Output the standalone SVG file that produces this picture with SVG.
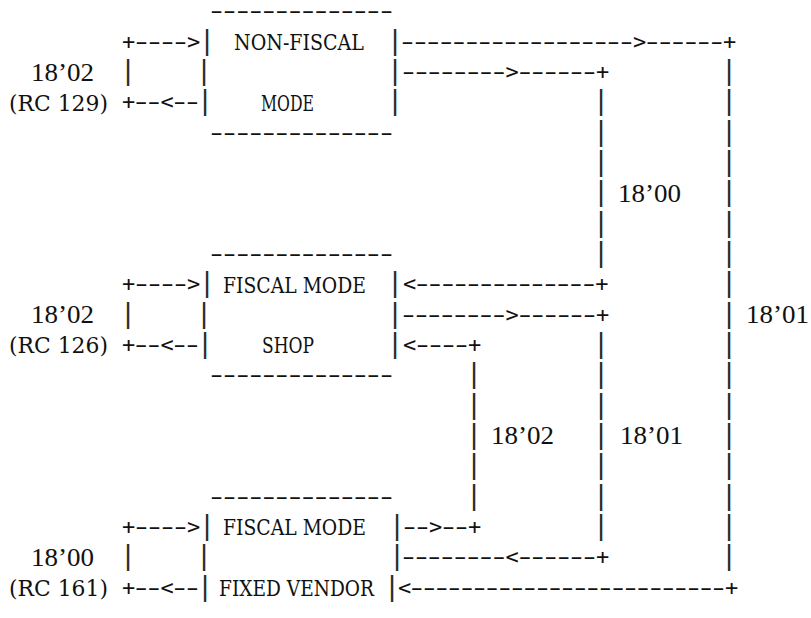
<svg xmlns="http://www.w3.org/2000/svg" width="811" height="618" viewBox="0 0 811 618">
<style>
.a{font-family:"DejaVu Sans Mono",monospace;font-size:22px;fill:#111}
.d{font-family:"DejaVu Sans",sans-serif;font-size:22px}
.b{font-family:"DejaVu Sans",sans-serif;font-size:27px;fill:#2a2a2a;text-anchor:middle}
.t{font-family:"DejaVu Serif",serif;font-size:23px;fill:#111}
.n{font-family:"Liberation Serif",serif;font-size:25px;fill:#111}
</style>
<rect width="811" height="618" fill="#fff"/>
<g id="node-non-fiscal">
<text class="a" y="18.4"><tspan class="d" x="210" textLength="183" lengthAdjust="spacingAndGlyphs">--------------</tspan></text>
<text class="b" x="207" y="48.7">|</text>
<text class="b" x="204" y="79">|</text>
<text class="b" x="205" y="109.3">|</text>
<text class="b" x="395" y="48.7">|</text>
<text class="b" x="395" y="79">|</text>
<text class="b" x="395" y="109.3">|</text>
<text class="t" x="234" y="50" textLength="130" lengthAdjust="spacingAndGlyphs">NON-FISCAL</text>
<text class="t" x="261" y="110.7" textLength="53" lengthAdjust="spacingAndGlyphs">MODE</text>
<text class="a" y="139.6"><tspan class="d" x="210" textLength="183" lengthAdjust="spacingAndGlyphs">--------------</tspan></text>
</g>
<g id="node-fiscal-shop">
<text class="a" y="260.9"><tspan class="d" x="210" textLength="183" lengthAdjust="spacingAndGlyphs">--------------</tspan></text>
<text class="b" x="207" y="291.3">|</text>
<text class="b" x="204" y="321.6">|</text>
<text class="b" x="205" y="351.9">|</text>
<text class="b" x="395" y="291.3">|</text>
<text class="b" x="395" y="321.6">|</text>
<text class="b" x="395" y="351.9">|</text>
<text class="t" x="223" y="292.7" textLength="143" lengthAdjust="spacingAndGlyphs">FISCAL MODE</text>
<text class="t" x="262" y="353.3" textLength="52" lengthAdjust="spacingAndGlyphs">SHOP</text>
<text class="a" y="382.2"><tspan class="d" x="210" textLength="183" lengthAdjust="spacingAndGlyphs">--------------</tspan></text>
</g>
<g id="node-fiscal-fixed-vendor">
<text class="a" y="503.5"><tspan class="d" x="210" textLength="183" lengthAdjust="spacingAndGlyphs">--------------</tspan></text>
<text class="b" x="207" y="533.8">|</text>
<text class="b" x="204" y="564.1">|</text>
<text class="b" x="205" y="594.5">|</text>
<text class="b" x="397" y="533.8">|</text>
<text class="b" x="397" y="564.1">|</text>
<text class="b" x="392" y="594.5">|</text>
<text class="t" x="223" y="535.2" textLength="143" lengthAdjust="spacingAndGlyphs">FISCAL MODE</text>
<text class="t" x="219" y="595.9" textLength="155" lengthAdjust="spacingAndGlyphs">FIXED VENDOR</text>
</g>
<g id="connectors">
<!-- left self loops -->
<text class="a" y="48.7"><tspan x="122">+</tspan><tspan class="d" x="135" textLength="52" lengthAdjust="spacingAndGlyphs">----</tspan><tspan x="187">&gt;</tspan></text>
<text class="b" x="128" y="79">|</text>
<text class="a" y="109.3"><tspan x="122">+</tspan><tspan class="d" x="134.8" textLength="25.6" lengthAdjust="spacingAndGlyphs">--</tspan><tspan x="160.4">&lt;</tspan><tspan class="d" x="173.2" textLength="25.6" lengthAdjust="spacingAndGlyphs">--</tspan></text>
<text class="a" y="291.3"><tspan x="122">+</tspan><tspan class="d" x="135" textLength="52" lengthAdjust="spacingAndGlyphs">----</tspan><tspan x="187">&gt;</tspan></text>
<text class="b" x="128" y="321.6">|</text>
<text class="a" y="351.9"><tspan x="122">+</tspan><tspan class="d" x="134.8" textLength="25.6" lengthAdjust="spacingAndGlyphs">--</tspan><tspan x="160.4">&lt;</tspan><tspan class="d" x="173.2" textLength="25.6" lengthAdjust="spacingAndGlyphs">--</tspan></text>
<text class="a" y="533.8"><tspan x="122">+</tspan><tspan class="d" x="135" textLength="52" lengthAdjust="spacingAndGlyphs">----</tspan><tspan x="187">&gt;</tspan></text>
<text class="b" x="128" y="564.1">|</text>
<text class="a" y="594.5"><tspan x="122">+</tspan><tspan class="d" x="134.8" textLength="25.6" lengthAdjust="spacingAndGlyphs">--</tspan><tspan x="160.4">&lt;</tspan><tspan class="d" x="173.2" textLength="25.6" lengthAdjust="spacingAndGlyphs">--</tspan></text>
<!-- horizontal runs right -->
<text class="a" y="48.7"><tspan class="d" x="401" textLength="231.9" lengthAdjust="spacingAndGlyphs">------------------</tspan><tspan x="632.9">&gt;</tspan><tspan class="d" x="645.8" textLength="77.3" lengthAdjust="spacingAndGlyphs">------</tspan><tspan x="723.1">+</tspan></text>
<text class="a" y="79"><tspan class="d" x="402" textLength="103.5" lengthAdjust="spacingAndGlyphs">--------</tspan><tspan x="505.5">&gt;</tspan><tspan class="d" x="518.4" textLength="77.6" lengthAdjust="spacingAndGlyphs">------</tspan><tspan x="596.1">+</tspan></text>
<text class="a" y="291.3"><tspan x="403">&lt;</tspan><tspan class="d" x="415.8" textLength="179.4" lengthAdjust="spacingAndGlyphs">--------------</tspan><tspan x="595.2">+</tspan></text>
<text class="a" y="321.6"><tspan class="d" x="402" textLength="103.5" lengthAdjust="spacingAndGlyphs">--------</tspan><tspan x="505.5">&gt;</tspan><tspan class="d" x="518.4" textLength="77.6" lengthAdjust="spacingAndGlyphs">------</tspan><tspan x="596.1">+</tspan></text>
<text class="a" y="351.9"><tspan x="403">&lt;</tspan><tspan class="d" x="416" textLength="52" lengthAdjust="spacingAndGlyphs">----</tspan><tspan x="468">+</tspan></text>
<text class="a" y="533.8"><tspan class="d" x="403" textLength="26" lengthAdjust="spacingAndGlyphs">--</tspan><tspan x="429">&gt;</tspan><tspan class="d" x="442" textLength="26" lengthAdjust="spacingAndGlyphs">--</tspan><tspan x="468">+</tspan></text>
<text class="a" y="564.1"><tspan class="d" x="402" textLength="103.5" lengthAdjust="spacingAndGlyphs">--------</tspan><tspan x="505.5">&lt;</tspan><tspan class="d" x="518.4" textLength="77.6" lengthAdjust="spacingAndGlyphs">------</tspan><tspan x="596.1">+</tspan></text>
<text class="a" y="594.5"><tspan x="398">&lt;</tspan><tspan class="d" x="410.4" textLength="314.5" lengthAdjust="spacingAndGlyphs">-------------------------</tspan><tspan x="724.9">+</tspan></text>
<!-- column 601 -->
<text class="b" x="601" y="109.3">|</text>
<text class="b" x="601" y="139.6">|</text>
<text class="b" x="601" y="170">|</text>
<text class="b" x="601" y="200.3">|</text>
<text class="b" x="601" y="230.6">|</text>
<text class="b" x="601" y="260.9">|</text>
<text class="b" x="601" y="351.9">|</text>
<text class="b" x="601" y="382.2">|</text>
<text class="b" x="601" y="412.5">|</text>
<text class="b" x="601" y="442.9">|</text>
<text class="b" x="601" y="473.2">|</text>
<text class="b" x="601" y="503.5">|</text>
<text class="b" x="601" y="533.8">|</text>
<!-- column 474 -->
<text class="b" x="474" y="382.2">|</text>
<text class="b" x="474" y="412.5">|</text>
<text class="b" x="474" y="442.9">|</text>
<text class="b" x="474" y="473.2">|</text>
<text class="b" x="474" y="503.5">|</text>
<!-- column 729 -->
<text class="b" x="729" y="79">|</text>
<text class="b" x="729" y="109.3">|</text>
<text class="b" x="729" y="139.6">|</text>
<text class="b" x="729" y="170">|</text>
<text class="b" x="729" y="200.3">|</text>
<text class="b" x="729" y="230.6">|</text>
<text class="b" x="729" y="260.9">|</text>
<text class="b" x="729" y="291.3">|</text>
<text class="b" x="729" y="321.6">|</text>
<text class="b" x="729" y="351.9">|</text>
<text class="b" x="729" y="382.2">|</text>
<text class="b" x="729" y="412.5">|</text>
<text class="b" x="729" y="442.9">|</text>
<text class="b" x="729" y="473.2">|</text>
<text class="b" x="729" y="503.5">|</text>
<text class="b" x="729" y="533.8">|</text>
<text class="b" x="729" y="564.1">|</text>
<!-- labels -->
<text class="n" x="31" y="80.5" textLength="63" lengthAdjust="spacingAndGlyphs">18’02</text>
<text class="t" x="9" y="110.7" textLength="99" lengthAdjust="spacingAndGlyphs">(RC 129)</text>
<text class="n" x="31" y="323.1" textLength="63" lengthAdjust="spacingAndGlyphs">18’02</text>
<text class="t" x="9" y="353.3" textLength="99" lengthAdjust="spacingAndGlyphs">(RC 126)</text>
<text class="n" x="31" y="565.6" textLength="63" lengthAdjust="spacingAndGlyphs">18’00</text>
<text class="t" x="9" y="595.9" textLength="99" lengthAdjust="spacingAndGlyphs">(RC 161)</text>
<text class="n" x="618" y="201.8" textLength="63" lengthAdjust="spacingAndGlyphs">18’00</text>
<text class="n" x="746" y="323.1" textLength="63" lengthAdjust="spacingAndGlyphs">18’01</text>
<text class="n" x="491" y="444.4" textLength="63" lengthAdjust="spacingAndGlyphs">18’02</text>
<text class="n" x="620" y="444.4" textLength="63" lengthAdjust="spacingAndGlyphs">18’01</text>
</g>
</svg>
